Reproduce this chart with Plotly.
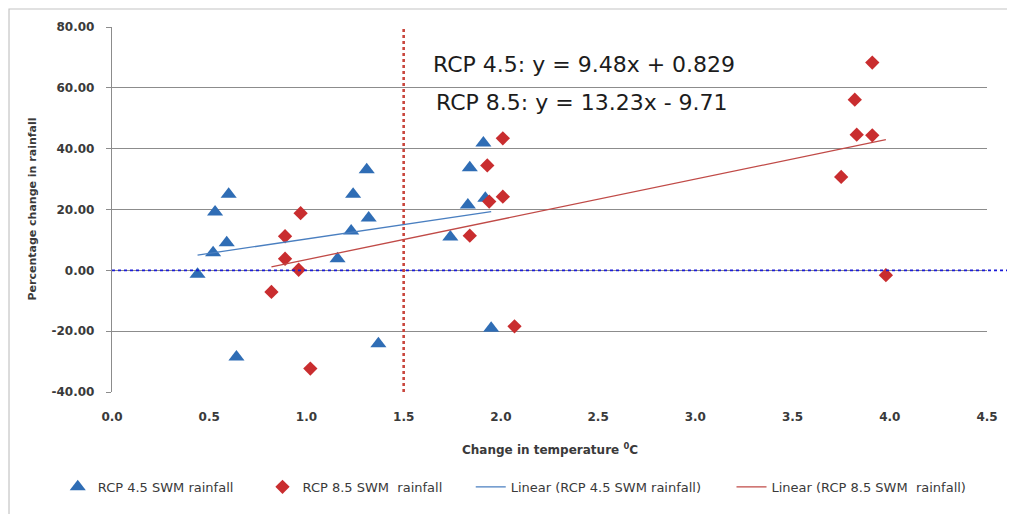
"""
Rainfall vs temperature change scatter - RCP 4.5 and RCP 8.5 SWM rainfall
"""

import plotly.graph_objects as go

# RCP 4.5 SWM rainfall (change in temperature, % change in rainfall)
rcp45_temp = [0.44, 0.52, 0.53, 0.59, 0.60, 0.64, 1.16, 1.23, 1.24, 1.31, 1.32, 1.37,
              1.74, 1.83, 1.84, 1.91, 1.92, 1.95]
rcp45_rain = [-1.3, 5.8, 19.2, 9.1, 25.0, -28.5, 3.8, 12.9, 25.0, 33.1, 17.2, -24.1,
              11.0, 21.5, 33.7, 41.9, 23.7, -19.0]

# RCP 8.5 SWM rainfall
rcp85_temp = [0.82, 0.89, 0.89, 0.97, 0.96, 1.02, 1.84, 1.93, 1.94, 2.01, 2.01, 2.07,
              3.75, 3.82, 3.83, 3.91, 3.91, 3.98]
rcp85_rain = [-7.1, 11.2, 3.8, 18.8, 0.2, -32.3, 11.4, 34.5, 22.6, 43.4, 24.2, -18.4,
              30.7, 56.1, 44.6, 68.3, 44.4, -1.6]

# linear trend coefficients as printed on the chart
rcp45_fit = (9.48, 0.829)
rcp85_fit = (13.23, -9.71)

x_ticks = [0.0, 0.5, 1.0, 1.5, 2.0, 2.5, 3.0, 3.5, 4.0, 4.5]
y_ticks = [-40, -20, 0, 20, 40, 60, 80]
threshold_temp = 1.5

BLUE = '#2f6db5'
RED = '#c92d2f'
GRID = '#8c8c8c'
TEXT = '#3a3a3a'


def trend(xs, fit):
    """Trend line endpoints over the data range"""
    lo, hi = min(xs), max(xs)
    return [lo, hi], [fit[0] * lo + fit[1], fit[0] * hi + fit[1]]


def legend_box(x):
    return dict(
        orientation='h', x=x, xanchor='left', y=-0.26, yanchor='middle',
        font=dict(family='DejaVu Sans', size=13, color=TEXT),
        bgcolor='rgba(0,0,0,0)', itemwidth=30
    )


fig = go.Figure()

fig.add_trace(go.Scatter(
    x=rcp45_temp, y=rcp45_rain, mode='markers', name='RCP 4.5 SWM rainfall',
    marker=dict(symbol='triangle-up', size=14, color=BLUE), legend='legend'
))
fig.add_trace(go.Scatter(
    x=rcp85_temp, y=rcp85_rain, mode='markers', name='RCP 8.5 SWM  rainfall',
    marker=dict(symbol='diamond', size=11, color=RED), legend='legend2'
))

tx, ty = trend(rcp45_temp, rcp45_fit)
fig.add_trace(go.Scatter(
    x=tx, y=ty, mode='lines', name='Linear (RCP 4.5 SWM rainfall)',
    line=dict(color='#4a7fc0', width=1.3), legend='legend3'
))
tx, ty = trend(rcp85_temp, rcp85_fit)
fig.add_trace(go.Scatter(
    x=tx, y=ty, mode='lines', name='Linear (RCP 8.5 SWM  rainfall)',
    line=dict(color='#c04a47', width=1.3), legend='legend4'
))

# zero line (dotted blue, runs past the plot edge) and 1.5 degree marker
fig.add_shape(type='line', xref='paper', yref='y', x0=0, x1=1.03, y0=0, y1=0,
              line=dict(color='#1a1ad6', width=1.6, dash='dot'))
fig.add_shape(type='line', xref='x', yref='y', x0=threshold_temp, x1=threshold_temp,
              y0=-40, y1=80, line=dict(color='#c9463d', width=2.6, dash='dot'))

# outer chart frame
fig.add_shape(type='rect', xref='paper', yref='paper', x0=-0.1177, x1=1.2,
              y0=-0.5, y1=1.0493, line=dict(color='#c4c4c4', width=1.2), layer='below')

eq_font = dict(family='DejaVu Sans', size=22, color='#1c1c1c')
fig.add_annotation(text='RCP 4.5: y = 9.48x + 0.829', xref='paper', yref='paper',
                   x=0.3646, y=0.896, xanchor='left', yanchor='middle',
                   showarrow=False, font=eq_font)
fig.add_annotation(text='RCP 8.5: y = 13.23x - 9.71', xref='paper', yref='paper',
                   x=0.368, y=0.792, xanchor='left', yanchor='middle',
                   showarrow=False, font=eq_font)

# axis titles
fig.add_annotation(text='Change in temperature <sup>0</sup>C', xref='paper', yref='paper',
                   x=0.5006, y=-0.156, xanchor='center', yanchor='middle', showarrow=False,
                   font=dict(family='DejaVu Sans', size=12, color=TEXT, weight='bold'))
fig.add_annotation(text='Percentage change in rainfall', xref='paper', yref='paper',
                   x=-0.0914, y=0.5, textangle=-90, xanchor='center', yanchor='middle',
                   showarrow=False,
                   font=dict(family='DejaVu Sans', size=11, color=TEXT, weight='bold'))

tick_font = dict(family='DejaVu Sans', size=12, color=TEXT, weight='bold')

# the page body adds 8px, so the figure is 8px smaller than the window
fig.update_layout(
    width=1007, height=506,
    margin=dict(l=104, r=28, t=19, b=122),
    paper_bgcolor='white', plot_bgcolor='white',
    showlegend=True,
    legend=legend_box(-0.062),
    legend2=legend_box(0.172),
    legend3=legend_box(0.410),
    legend4=legend_box(0.708),
    xaxis=dict(
        range=[0, 4.5], tickvals=x_ticks, tickformat='.1f',
        showgrid=False, zeroline=False, showline=False, ticks='',
        ticklabelstandoff=16, tickfont=tick_font
    ),
    yaxis=dict(
        range=[-40, 80], tickvals=y_ticks,
        ticktext=[f'{v:.2f}' for v in y_ticks],
        showgrid=True, gridcolor=GRID, gridwidth=1.3, zeroline=False,
        showline=True, linecolor=GRID, linewidth=1.3,
        ticks='outside', ticklen=5, tickcolor=GRID, ticklabelstandoff=9,
        tickfont=tick_font
    )
)

fig.write_html('out.html')
print('done')
